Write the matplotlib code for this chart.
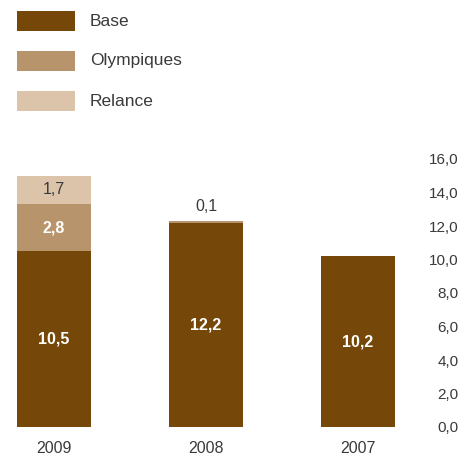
import numpy as np
import matplotlib
matplotlib.use('Agg')
import matplotlib.pyplot as plt
from matplotlib.patches import Rectangle

plt.rcParams['font.family'] = ['Liberation Sans', 'DejaVu Sans']

# data
years = ['2009', '2008', '2007']
base = [10.5, 12.2, 10.2]
olympiques = [2.8, 0.1, 0.0]
relance = [1.7, 0.0, 0.0]
y_ticks = [0, 2, 4, 6, 8, 10, 12, 14, 16]

c_base = '#75480a'
c_olymp = '#b8946c'
c_relance = '#dbc4aa'
c_text = '#3a3a3a'


def lab(v):
    return f'{v:.1f}'.replace('.', ',')


fig = plt.figure(figsize=(4.73, 4.55), dpi=100)
ax = fig.add_axes([0.0, 28 / 455, 410 / 473, 268 / 455])

x = np.arange(len(years))
w = 0.487
ax.bar(x, base, w, color=c_base, linewidth=0)
ax.bar(x, olympiques, w, bottom=base, color=c_olymp, linewidth=0)
bot2 = np.array(base) + np.array(olympiques)
ax.bar(x, relance, w, bottom=bot2, color=c_relance, linewidth=0)

ax.set_xlim(-54 / 152, (410 - 54) / 152)
ax.set_ylim(0, 16)

# value labels
for i in range(len(years)):
    ax.text(x[i], base[i] / 2, lab(base[i]), ha='center', va='center',
            color='white', fontsize=11.5, fontweight='bold')
ax.text(x[0], base[0] + olympiques[0] / 2, lab(olympiques[0]), ha='center', va='center',
        color='white', fontsize=11.5, fontweight='bold')
ax.text(x[0], bot2[0] + relance[0] / 2, lab(relance[0]), ha='center', va='center',
        color=c_text, fontsize=11.5)
ax.text(x[1], bot2[1] + 0.85, lab(olympiques[1]), ha='center', va='center',
        color=c_text, fontsize=11.5)

# axes styling
for s in ax.spines.values():
    s.set_visible(False)
ax.set_xticks(x)
ax.set_xticklabels(years, fontsize=11.5, color=c_text)
ax.tick_params(axis='x', length=0, pad=10)
ax.yaxis.tick_right()
ax.set_yticks(y_ticks)
ax.set_yticklabels([lab(v) for v in y_ticks], fontsize=11, color=c_text)
ax.tick_params(axis='y', length=0, pad=35)
for t in ax.get_yticklabels():
    t.set_horizontalalignment('right')
ax.patch.set_alpha(0)

# legend
names = ['Base', 'Olympiques', 'Relance']
cols = [c_base, c_olymp, c_relance]
for k, (n, c) in enumerate(zip(names, cols)):
    top = 11 + 40 * k
    fig.patches.append(Rectangle((17 / 473, 1 - (top + 20) / 455), 58 / 473, 20 / 455,
                                 transform=fig.transFigure, color=c, linewidth=0))
    fig.text(90 / 473, 1 - (top + 10) / 455, n, ha='left', va='center',
             fontsize=12.5, color=c_text)

plt.savefig('out.png', dpi=100)
